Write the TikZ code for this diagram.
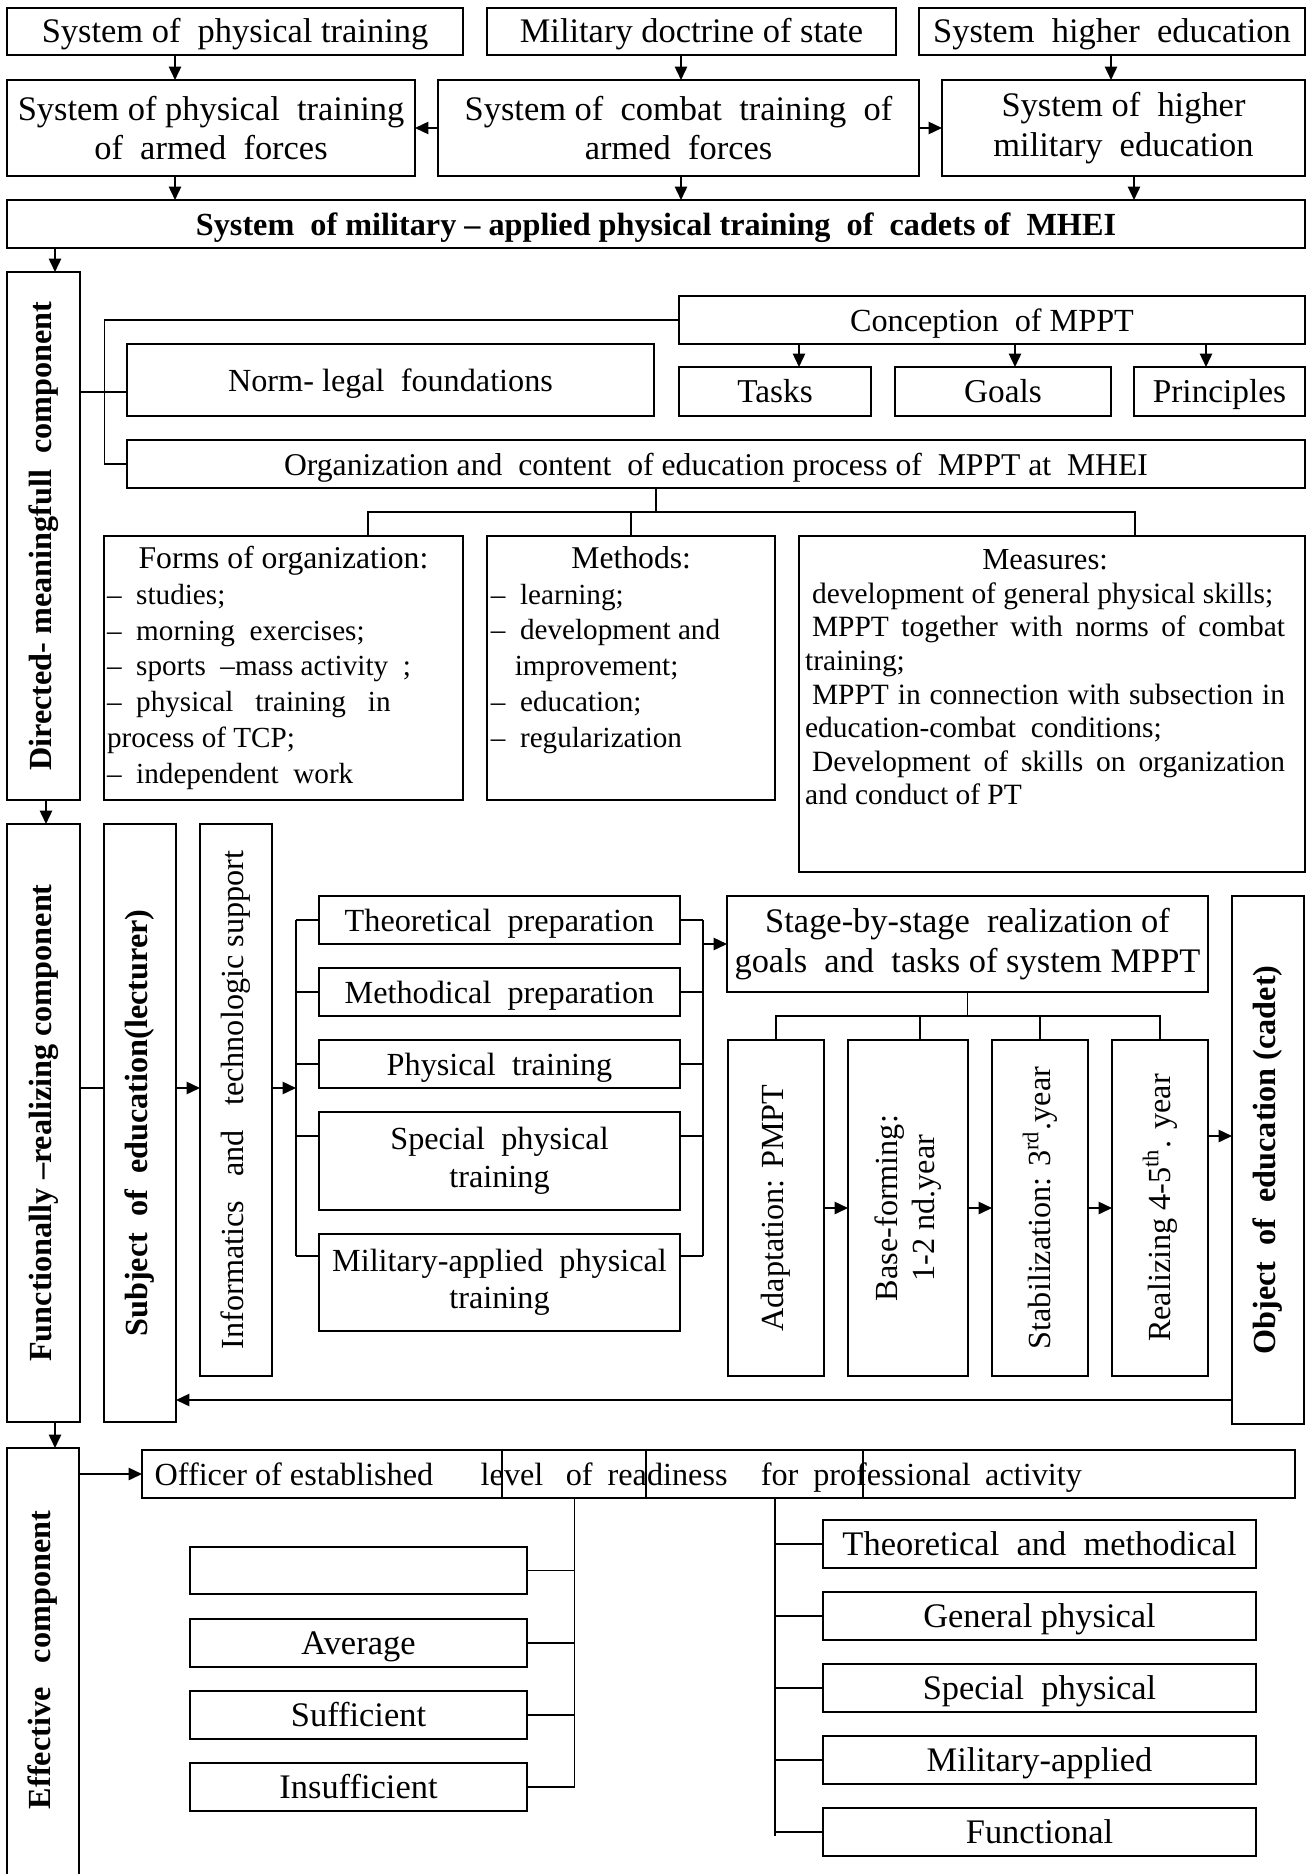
\documentclass[tikz,border=0pt]{standalone}
\usepackage{fontspec}
\setmainfont{Liberation Serif}
\usetikzlibrary{arrows.meta}
\newcommand\mainf{\fontsize{11.6}{13.5}\selectfont}
\newcommand\mainb{\fontsize{11.6}{13.5}\selectfont\bfseries}
\newcommand\bigf{\fontsize{12.4}{14.2}\selectfont}
\newcommand\stagef{\fontsize{12.4}{14.6}\selectfont}
\newcommand\tskf{\fontsize{12}{14}\selectfont}
\newcommand\listf{\fontsize{10.5}{12.85}\selectfont}
\newcommand\listh{\fontsize{11.4}{12.85}\selectfont}
\newcommand\measf{\fontsize{10.6}{12.1}\selectfont}
\newcommand\orgf{\fontsize{11.4}{13}\selectfont}
\newcommand\nsk{\spaceskip=0pt\xspaceskip=0pt\relax}
\newcommand\mybx[7][]{%
  \pgfmathsetmacro\myBW{(#5-#3)*0.36}%
  \pgfmathsetmacro\myBH{(#6-#4)*0.36}%
  \node[bx,minimum width=\myBW pt,minimum height=\myBH pt,#1] (#2) at ({(#3+#5)/2},{(#4+#6)/2}) {#7};}
\begin{document}
\begin{tikzpicture}[x=0.36pt,y=-0.36pt,
  bx/.style={draw,line width=0.65pt,inner sep=0pt,outer sep=0pt,align=center,font=\mainf},
  bxb/.style={line width=0.9pt},
  sl/.style={text height=9.6pt,text depth=1.5pt},
  txt/.style={inner sep=0pt,outer sep=0pt},
  rot/.style={inner sep=0pt,rotate=90,align=center,font=\mainf},
  arr/.style={line width=0.65pt,-{Triangle[length=4.8pt,width=4.4pt]}},
  ln/.style={line width=0.65pt}]
\clip (0,0) rectangle (1310,1874);
\fill[white] (0,0) rectangle (1310,1874);

% ---------- top rows
\mybx[sl,font=\bigf]{A1}{7}{8}{463}{55}{System of\ \ physical training}
\mybx[sl,font=\bigf]{A2}{487}{8}{896}{55}{Military doctrine of state}
\mybx[sl,font=\bigf]{A3}{919}{8}{1305}{55}{System\ \ higher\ \ education}
\mybx[bxb,font=\bigf]{B1}{7}{80}{415}{176}{System of physical\ \ training\\of\ \ armed\ \ forces}
\mybx[bxb,font=\bigf]{B2}{438}{80}{919}{176}{System of\ \ combat\ \ training\ \ of\\armed\ \ forces}
\mybx[bxb,font=\bigf]{B3}{942}{80}{1305}{176}{System of\ \ higher\\military\ \ education}
\mybx[sl,font=\mainb]{C}{7}{200}{1305}{248}{System\ \ of military – applied physical training\ \ of\ \ cadets of\ \ MHEI}

\coordinate (xa) at (175,0);
\coordinate (xb) at (681,0);
\coordinate (xc) at (1111,0);
\coordinate (xd) at (1134,0);
\draw[arr] (A1.south -| xa) -- (B1.north -| xa);
\draw[arr] (A2.south -| xb) -- (B2.north -| xb);
\draw[arr] (A3.south -| xc) -- (B3.north -| xc);
\draw[arr] (B1.south -| xa) -- (C.north -| xa);
\draw[arr] (B2.south -| xb) -- (C.north -| xb);
\draw[arr] (B3.south -| xd) -- (C.north -| xd);
\draw[arr] (B2.west) -- (B1.east);
\draw[arr] (B2.east) -- (B3.west);

% ---------- left column
\mybx{D1}{7}{272}{80}{800}{}
\node[rot,font=\mainb] (D1t) at (D1.center) {Directed- meaningfull\ \ component};
\mybx{D2}{7}{824}{80}{1422}{}
\node[rot,font=\mainb] (D2t) at (D2.center) {Functionally –realizing component};
\mybx{D3}{7}{1448}{79}{1900}{}
\node[rot,font=\mainb] (D3t) at (43,1660) {Effective\ \ \ component};
\coordinate (xe) at (55,0);
\coordinate (xf) at (46,0);
\draw[arr] (C.south -| xe) -- (D1.north -| xe);
\draw[arr] (D1.south -| xf) -- (D2.north -| xf);
\draw[arr] (D2.south -| xe) -- (D3.north -| xe);

% ---------- directed-meaningful block
\mybx[sl]{Conc}{679}{296}{1305}{344}{Conception\ \ of MPPT}
\mybx[sl]{Norm}{127}{344}{654}{416}{Norm- legal\ \ foundations}
\mybx[sl,font=\tskf]{Tasks}{679}{367}{871}{416}{Tasks}
\mybx[sl,font=\tskf]{Goals}{895}{367}{1111}{416}{Goals}
\mybx[sl,font=\tskf]{Princ}{1134}{367}{1305}{416}{Principles}
\mybx[sl,font=\orgf]{Org}{127}{440}{1305}{488}{Organization and\ \ content\ \ of education process of\ \ MPPT at\ \ MHEI}
\coordinate (t1) at (799,0);
\coordinate (t2) at (1015,0);
\coordinate (t3) at (1206,0);
\draw[arr] (Conc.south -| t1) -- (Tasks.north -| t1);
\draw[arr] (Conc.south -| t2) -- (Goals.north -| t2);
\draw[arr] (Conc.south -| t3) -- (Princ.north -| t3);
\coordinate (vx) at (104.5,0);
\draw[ln] (Conc.west) -| (vx |- Org.west) -- (Org.west);
\coordinate (ny) at (0,391.7);
\draw[ln] (D1.east |- ny) -- (Norm.west |- ny);

\mybx{Forms}{104}{536}{463}{800}{}
\mybx{Meth}{487}{536}{775}{800}{}
\mybx{Meas}{799}{536}{1305}{872}{}
\coordinate (ox) at (656,0);
\coordinate (oy) at (0,511.7);
\coordinate (f1) at (368,0);
\coordinate (f2) at (631,0);
\coordinate (f3) at (1135,0);
\draw[ln] (Org.south -| ox) -- (ox |- oy);
\draw[ln] (Forms.north -| f1) -- (f1 |- oy) -- (f3 |- oy) -- (Meas.north -| f3);
\draw[ln] (Meth.north -| f2) -- (f2 |- oy);

\node[txt,anchor=north west,text width=127pt,align=left,font=\listf] (FormsT) at ([xshift=1.1pt,yshift=-3.8pt]Forms.north west)
{\nsk\makebox[\hsize]{\listh Forms of organization:}\\
–\ \ studies;\\
–\ \ morning\ \ exercises;\\
–\ \ sports\ \ –mass activity\ \ ;\\
–\ \ physical\ \ \ training\ \ \ in\\
process of TCP;\\
–\ \ independent\ \ work};
\node[txt,anchor=north west,text width=101pt,align=left,font=\listf] (MethT) at ([xshift=1.4pt,yshift=-3.8pt]Meth.north west)
{\nsk\makebox[\hsize]{\listh Methods:}\\
–\ \ learning;\\
–\ \ development and\\
\hspace*{8.6pt}improvement;\\
–\ \ education;\\
–\ \ regularization};
\node[txt,anchor=north west,text width=172.8pt,align=left,font=\measf] (MeasT) at ([xshift=2.2pt,yshift=-4.9pt]Meas.north west)
{\nsk\makebox[\hsize]{\fontsize{11}{12.1}\selectfont Measures:}\\
\hspace*{2.5pt}development of general physical skills;\\
\makebox[\hsize][s]{\hspace*{2.5pt}MPPT together with norms of combat}\\
training;\\
\makebox[\hsize][s]{\hspace*{2.5pt}MPPT in connection with subsection in}\\
education-combat\ \ conditions;\\
\makebox[\hsize][s]{\hspace*{2.5pt}Development of skills on organization}\\
and conduct of PT};

% ---------- functional block
\mybx{Subj}{104}{824}{176}{1422}{}
\node[rot,font=\mainb] (Subjt) at (Subj.center) {Subject\ \ of\ \ education(lecturer)};
\mybx{Info}{200}{824}{272}{1376}{}
\node[rot] (Infot) at (Info.center) {Informatics\ \ \ and\ \ \ technologic support};

\mybx[sl]{Theo}{319}{896}{680}{944}{Theoretical\ \ preparation}
\mybx[sl]{MethP}{319}{968}{680}{1016}{Methodical\ \ preparation}
\mybx[sl]{Phys}{319}{1040}{680}{1088}{Physical\ \ training}
\mybx{Spec}{319}{1112}{680}{1210}{Special\ \ physical\\training}
\mybx{Mil}{319}{1234}{680}{1331}{Military-applied\ \ physical\\training}

\coordinate (lb) at (296,0);
\coordinate (rb) at (703,0);
\coordinate (s1) at (0,920);
\coordinate (s2) at (0,992);
\coordinate (s3) at (0,1064);
\coordinate (s4) at (0,1136);
\coordinate (s5) at (0,1256);
\draw[ln] (lb |- s1) -- (lb |- s5);
\draw[ln] (rb |- s1) -- (rb |- s5);
\foreach \n/\s in {Theo/s1,MethP/s2,Phys/s3,Spec/s4,Mil/s5}{
  \draw[ln] (lb |- \s) -- (\n.west |- \s);
  \draw[ln] (\n.east |- \s) -- (rb |- \s);}

\coordinate (my) at (0,1088);
\draw[ln] (D2.east |- my) -- (Subj.west |- my);
\draw[arr] (Subj.east |- my) -- (Info.west |- my);
\draw[arr] (Info.east |- my) -- (lb |- my);

\mybx[font=\stagef]{Stage}{727}{896}{1208}{992}{Stage-by-stage\ \ realization of\\goals\ \ and\ \ tasks of system MPPT}
\draw[arr] (rb |- Stage.west) -- (Stage.west);

\mybx{Adapt}{728}{1040}{824}{1376}{}
\node[rot] (Adaptt) at (Adapt.center) {Adaptation: PMPT};
\mybx{Base}{848}{1040}{968}{1376}{}
\node[rot] (Baset) at (Base.center) {Base-forming:\\1-2 nd.year};
\mybx{Stab}{992}{1040}{1088}{1376}{}
\node[rot] (Stabt) at (Stab.center) {Stabilization: 3\textsuperscript{rd}.year};
\mybx{Real}{1112}{1040}{1208}{1376}{}
\node[rot] (Realt) at (Real.center) {Realizing 4-5\textsuperscript{th}. year};
\mybx{Obj}{1232}{896}{1304}{1424}{}
\node[rot,font=\mainb] (Objt) at (Obj.center) {Object\ \ of\ \ education (cadet)};

\coordinate (sy) at (0,1016);
\coordinate (g1) at (776,0);
\coordinate (g2) at (920,0);
\coordinate (g3) at (1040,0);
\coordinate (g4) at (1160,0);
\draw[ln] (Stage.south) -- (Stage.south |- sy);
\draw[ln] (Adapt.north -| g1) -- (g1 |- sy) -- (g4 |- sy) -- (Real.north -| g4);
\draw[ln] (Base.north -| g2) -- (g2 |- sy);
\draw[ln] (Stab.north -| g3) -- (g3 |- sy);
\draw[arr] (Adapt.east) -- (Base.west);
\draw[arr] (Base.east) -- (Stab.west);
\draw[arr] (Stab.east) -- (Real.west);
\coordinate (ry) at (0,1136);
\draw[arr] (Real.east |- ry) -- (Obj.west |- ry);
\coordinate (by) at (0,1400);
\draw[arr] (Obj.west |- by) -- (Subj.east |- by);

% ---------- effective block
\mybx[sl,text width=406pt,align=left]{Off}{142}{1450}{1295}{1498}{\nsk\makebox[117.4pt][l]{Officer of established}\makebox[30.6pt][l]{level}\makebox[15.1pt][l]{of}\makebox[55.1pt][l]{readiness}\makebox[18.9pt][l]{for}\makebox[61.9pt][l]{professional}activity}
\coordinate (d1) at (502,0);
\coordinate (d2) at (646,0);
\coordinate (d3) at (863,0);
\foreach \d in {d1,d2,d3}{\draw[ln] (Off.north -| \d) -- (Off.south -| \d);}
\draw[arr] (D3.east |- Off.west) -- (Off.west);

\mybx[font=\bigf]{L0}{190}{1547}{527}{1594}{}
\mybx[sl,font=\bigf]{L1}{190}{1619}{527}{1667}{Average}
\mybx[sl,font=\bigf]{L2}{190}{1691}{527}{1739}{Sufficient}
\mybx[sl,font=\bigf]{L3}{190}{1763}{527}{1811}{Insufficient}
\coordinate (lb2) at (574.5,0);
\draw[ln] (Off.south -| lb2) -- (lb2 |- L3.east);
\foreach \n in {L0,L1,L2,L3}{\draw[ln] (\n.east) -- (lb2 |- \n.east);}

\mybx[sl,font=\bigf]{R0}{823}{1520}{1256}{1568}{Theoretical\ \ and\ \ methodical}
\mybx[sl,font=\bigf]{R1}{823}{1592}{1256}{1640}{General physical}
\mybx[sl,font=\bigf]{R2}{823}{1664}{1256}{1712}{Special\ \ physical}
\mybx[sl,font=\bigf]{R3}{823}{1736}{1256}{1784}{Military-applied}
\mybx[sl,font=\bigf]{R4}{823}{1808}{1256}{1856}{Functional}
\coordinate (rb2) at (775,0);
\coordinate (rbe) at (0,1836);
\draw[ln] (Off.south -| rb2) -- (rb2 |- rbe);
\foreach \n in {R0,R1,R2,R3,R4}{\draw[ln] (rb2 |- \n.west) -- (\n.west);}
\end{tikzpicture}
\end{document}
